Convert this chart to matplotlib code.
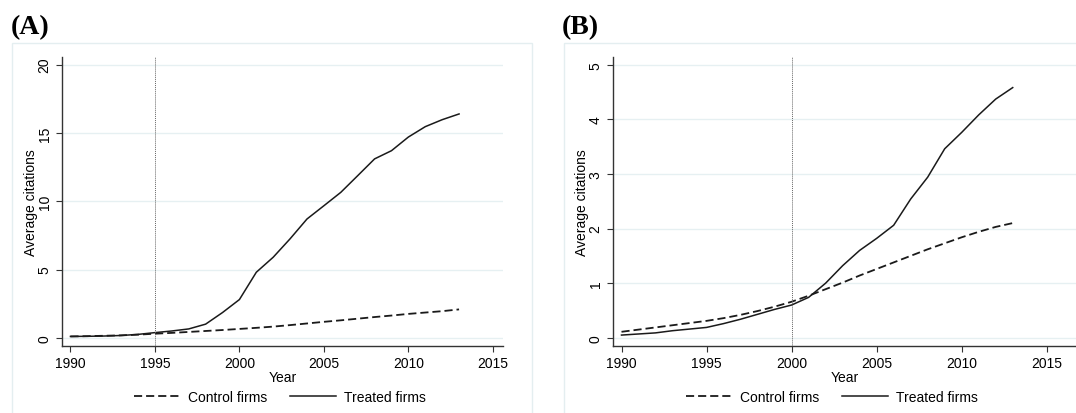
import numpy as np
import matplotlib.pyplot as plt
from matplotlib.patches import Rectangle
from matplotlib.lines import Line2D

plt.rcParams['font.family'] = ['Liberation Sans', 'DejaVu Sans']

years = list(range(1990, 2014))

# Panel A
treated_a = [0.10, 0.11, 0.13, 0.17, 0.25, 0.38, 0.50, 0.65, 1.00, 1.85, 2.80,
             4.80, 5.90, 7.25, 8.70, 9.67, 10.65, 11.87, 13.10, 13.70, 14.70,
             15.46, 15.97, 16.39]
control_a = [0.10, 0.12, 0.15, 0.18, 0.23, 0.30, 0.36, 0.43, 0.50, 0.57, 0.65,
             0.73, 0.82, 0.93, 1.05, 1.17, 1.28, 1.40, 1.52, 1.63, 1.75, 1.85,
             1.95, 2.08]

# Panel B
treated_b = [0.05, 0.07, 0.09, 0.13, 0.16, 0.19, 0.26, 0.34, 0.43, 0.52, 0.60,
             0.74, 1.00, 1.32, 1.60, 1.82, 2.06, 2.54, 2.94, 3.46, 3.76, 4.08,
             4.37, 4.58]
control_b = [0.11, 0.15, 0.19, 0.23, 0.27, 0.31, 0.36, 0.42, 0.49, 0.57, 0.66,
             0.77, 0.89, 1.01, 1.14, 1.26, 1.38, 1.50, 1.62, 1.73, 1.84, 1.94,
             2.03, 2.10]

W, H = 1076, 414
fig = plt.figure(figsize=(W / 100, H / 100), dpi=100)
frame_col = '#e4eef0'
grid_col = '#e6f0f2'
line_col = '#1a1a1a'


def px(x0, y0, x1, y1):
    # pixel box -> figure fraction rect
    return [x0 / W, 1 - y1 / H, (x1 - x0) / W, (y1 - y0) / H]


def panel(rect, treated, control, cut, yticks, ymin, ymax, xmax, label, label_x, frame, legend_x):
    fig.add_artist(Rectangle((frame[0] / W, -0.1), (frame[1] - frame[0]) / W,
                             1 - frame[2] / H + 0.1, transform=fig.transFigure,
                             fill=False, edgecolor=frame_col, lw=1.0))
    fig.text(label_x / W, 1 - 28 / H, label, family='Liberation Serif',
             fontweight='bold', fontsize=20, va='center', ha='left')

    ax = fig.add_axes(rect)
    ax.plot(years, control, color=line_col, lw=1.3, dashes=(4.5, 2.2))
    ax.plot(years, treated, color=line_col, lw=1.1)
    ax.axvline(cut, color='#666666', lw=0.7, ls=(0, (1, 1)))
    ax.set_xlim(1989.5, xmax)
    ax.set_ylim(ymin, ymax)
    ax.set_xticks([1990, 1995, 2000, 2005, 2010, 2015])
    ax.set_yticks(yticks)
    ax.grid(axis='y', color=grid_col, lw=1.0)
    ax.set_axisbelow(True)
    for s in ['top', 'right']:
        ax.spines[s].set_visible(False)
    for s in ['left', 'bottom']:
        ax.spines[s].set_color('#333333')
        ax.spines[s].set_linewidth(1.0)
    ax.tick_params(colors='#333333', labelcolor='black', labelsize=10, length=4)
    for t in ax.get_yticklabels():
        t.set_rotation(90)
        t.set_va('center')
    ax.set_xlabel('Year', fontsize=10, labelpad=0)
    ax.set_ylabel('Average citations', fontsize=10, labelpad=0)

    handles = [Line2D([], [], color=line_col, lw=1.3, dashes=(4.5, 2.2)),
               Line2D([], [], color=line_col, lw=1.1)]
    fig.legend(handles, ['Control firms', 'Treated firms'], loc='center',
               bbox_to_anchor=(legend_x / W, 1 - 398 / H), ncol=2, frameon=False,
               fontsize=10, handlelength=3.3, columnspacing=1.6, handletextpad=0.6)
    return ax


panel(px(62, 58, 503, 347), treated_a, control_a, 1995, [0, 5, 10, 15, 20],
      -0.6, 20.56, 2015.6, '(A)', 11, (12, 532, 44), 280)
panel(px(613, 58, 1076, 347), treated_b, control_b, 2000, [0, 1, 2, 3, 4, 5],
      -0.15, 5.14, 2016.72, '(B)', 562, (564, 1100, 44), 832)

fig.savefig('out.png', dpi=100)
